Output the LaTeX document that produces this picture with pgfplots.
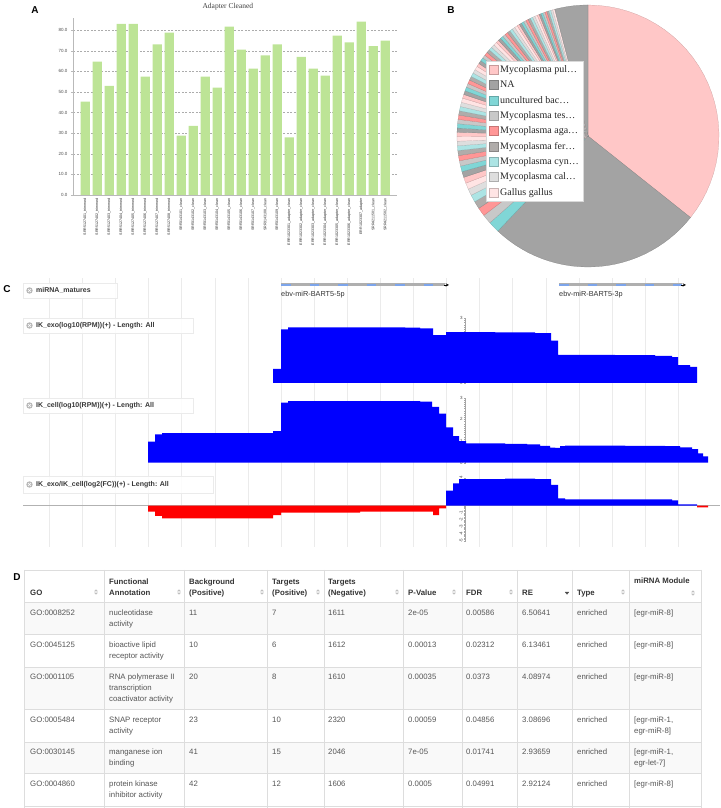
\documentclass[border=0pt]{standalone}
\usepackage{fontspec}
\setmainfont{Liberation Sans}
\newfontfamily\serif{Liberation Serif}
\usepackage{pgfplots}
\pgfplotsset{compat=1.18}
\pgfplotsset{/pgf/number format/assume math mode=true}

\definecolor{barg}{RGB}{189,228,150}
\definecolor{cPink}{RGB}{255,199,199}
\definecolor{cNA}{RGB}{163,163,163}
\definecolor{cTeal}{RGB}{128,214,214}
\definecolor{cLGray}{RGB}{200,200,200}
\definecolor{cSalmon}{RGB}{255,150,150}
\definecolor{cGrayB}{RGB}{176,172,170}
\definecolor{cLCyan}{RGB}{172,228,228}
\definecolor{cLLGray}{RGB}{222,222,222}
\definecolor{cLPink}{RGB}{255,228,228}
\definecolor{featgray}{RGB}{175,175,175}
\definecolor{featblue}{RGB}{125,165,235}
\definecolor{rowgray}{RGB}{249,249,249}
\definecolor{tabline}{RGB}{221,221,221}
\definecolor{tabtext}{RGB}{85,85,85}
\definecolor{headtext}{RGB}{51,51,51}

\newcommand\slice[3]{\addplot[fill=#3, draw=#3!78!black, line width=0.2pt, domain=#1:#2, samples=30] ({cos(x)},{sin(x)}) -- (axis cs:0,0) -- cycle;}
\newcommand\tabfont{\fontsize{7.8}{9}\selectfont}
\newcommand\tc[3]{\node[anchor=west, inner sep=0pt, text height=5.6pt, text depth=0.6pt, font=\tabfont, text=tabtext] at (#1pt,#2pt) {#3};}
\newcommand\thc[3]{\node[anchor=west, inner sep=0pt, text height=5.6pt, text depth=0.6pt, font=\tabfont\bfseries, text=headtext] at (#1pt,#2pt) {#3};}
\newcommand\sorti[2]{\begin{scope}[shift={(#1pt,#2pt)}]\fill[black!25] (-1.8pt,0.7pt)--(1.8pt,0.7pt)--(0pt,2.7pt)--cycle; \fill[black!25] (-1.8pt,-0.7pt)--(1.8pt,-0.7pt)--(0pt,-2.7pt)--cycle;\end{scope}}
\newcommand\sortd[2]{\begin{scope}[shift={(#1pt,#2pt)}]\fill[black!70] (-2.2pt,1pt)--(2.2pt,1pt)--(0pt,-1.6pt)--cycle;\end{scope}}
\newcommand\tbox[5]{%
  \fill[white, fill opacity=0.85, draw=black!8] (23pt,#2pt) rectangle (#1pt,#3pt);
  \begin{scope}[shift={(29.5pt,#4pt)}]
    \fill[black!28] (0pt,0pt) circle (3.2pt);
    \draw[white, line width=0.6pt] (-1.4pt,-1.4pt) -- (1.4pt,1.4pt) (-1.4pt,1.4pt) -- (1.4pt,-1.4pt);
  \end{scope}
  \node[anchor=west, inner sep=0pt, font=\bfseries\fontsize{7}{8}\selectfont, text=black!78] at (36pt,#4pt) {#5};}

\pgfplotsset{trk/.style={anchor=south west, scale only axis, width=720pt, xmin=-465, xmax=255,
  axis x line=none, axis y line=middle, y axis line style={-, draw=gray!70, line width=0.4pt},
  xtick=\empty, tick style={draw=gray!70, line width=0.3pt}, major tick length=2.5pt, minor tick length=1.5pt,
  tick align=center,
  yticklabel style={font=\fontsize{4.5}{5}\selectfont, text=black!70, inner sep=1pt}}}

\begin{document}
\begin{tikzpicture}
\path[use as bounding box] (0pt,0pt) rectangle (720pt,808pt);

% ---------- Panel A ----------
\begin{axis}[at={(73.3pt,613pt)}, anchor=south west, scale only axis, width=324pt, height=177.2pt,
  xmin=0, xmax=27, ymin=0, ymax=86,
  axis x line*=bottom, axis y line*=left, axis line style={-, draw=gray!55, line width=0.5pt},
  tick align=outside,
  ytick={0,10,...,80}, ymajorgrids, major grid style={gray!65, line width=0.4pt, dash pattern=on 2pt off 1.5pt},
  ytick style={draw=gray!55}, major tick length=2.5pt,
  yticklabel style={font=\fontsize{4.5}{5}\selectfont, text=black!70, /pgf/number format/fixed, /pgf/number format/fixed zerofill, /pgf/number format/precision=1},
  xtick={1,...,26}, xtick style={draw=none},
  xticklabels={SRR5127401\_trimmed,SRR5127402\_trimmed,SRR5127403\_trimmed,SRR5127404\_trimmed,SRR5127405\_trimmed,SRR5127406\_trimmed,SRR5127407\_trimmed,SRR5127408\_trimmed,SRR3143101\_clean,SRR3143102\_clean,SRR3143103\_clean,SRR3143104\_clean,SRR3143105\_clean,SRR3143106\_clean,SRR3143107\_clean,SRR3143108\_clean,SRR3143109\_clean,ERR1023301\_adapter\_clean,ERR1023302\_adapter\_clean,ERR1023303\_adapter\_clean,ERR1023304\_adapter\_clean,ERR1023305\_adapter\_clean,ERR1023306\_adapter\_clean,ERR1023307\_adapter,SRR4211501\_clean,SRR4211502\_clean},
  xticklabel style={rotate=90, anchor=east, font=\fontsize{3.6}{4}\selectfont, text=black!85, inner sep=1pt},
  title={Adapter Cleaned}, title style={font=\serif\fontsize{7.5}{9}\selectfont, text=black!75, at={(0.477,1)}, anchor=center, yshift=4.8pt},
]
\addplot[ybar, bar width=9.3pt, fill=barg, draw=none] coordinates {
(1,45.3)(2,64.7)(3,52.9)(4,83.0)(5,83.0)(6,57.4)(7,73.1)(8,78.8)(9,28.8)(10,33.6)(11,57.4)(12,52.1)(13,81.7)
(14,70.5)(15,61.3)(16,67.8)(17,73.1)(18,28.0)(19,67.0)(20,61.3)(21,57.9)(22,77.3)(23,74.1)(24,84.1)(25,72.3)(26,74.9)};
\end{axis}

% ---------- Panel B ----------
\begin{axis}[at={(457pt,541pt)}, anchor=south west, scale only axis, width=262pt, height=262pt,
  xmin=-1, xmax=1, ymin=-1, ymax=1, hide axis, clip=false,
  legend style={at={(0.111,0.786)}, anchor=north west, draw=black!15, fill=white,
    font=\serif\fontsize{10}{12}\selectfont, text=black!85, inner sep=2.5pt, row sep=2.9pt},
  legend cell align=left,
  legend image code/.code={\draw[#1, line width=0.4pt] (0pt,-4.5pt) rectangle (9pt,4.5pt);},
  legend entries={Mycoplasma pul…, NA, uncultured bac…, Mycoplasma tes…, Mycoplasma aga…, Mycoplasma fer…, Mycoplasma cyn…, Mycoplasma cal…, Gallus gallus},
]
\slice{-38.5}{90}{cPink}
\slice{-133.5}{-38.5}{cNA}
\slice{221.5}{226.5}{cTeal}
\slice{217.3}{221.5}{cLGray}
\slice{213.5}{217.3}{cSalmon}
\slice{210.1}{213.5}{cGrayB}
\slice{206.9}{210.1}{cLCyan}
\slice{203.9}{206.9}{cLLGray}
\slice{201.1}{203.9}{cLPink}
% cycle 2
\slice{198.4}{201.1}{cPink}
\slice{195.8}{198.4}{cNA}
\slice{193.3}{195.8}{cTeal}
\slice{190.9}{193.3}{cLGray}
\slice{188.6}{190.9}{cSalmon}
\slice{186.4}{188.6}{cGrayB}
\slice{184.3}{186.4}{cLCyan}
\slice{182.3}{184.3}{cLLGray}
\slice{180.3}{182.3}{cLPink}
% cycle 3
\slice{178.4}{180.3}{cPink}
\slice{176.5}{178.4}{cNA}
\slice{174.6}{176.5}{cTeal}
\slice{172.7}{174.6}{cLGray}
\slice{170.8}{172.7}{cSalmon}
\slice{168.9}{170.8}{cGrayB}
\slice{167.0}{168.9}{cLCyan}
\slice{165.1}{167.0}{cLLGray}
\slice{163.2}{165.1}{cLPink}
% cycle 4
\slice{161.5}{163.2}{cPink}
\slice{159.8}{161.5}{cNA}
\slice{158.1}{159.8}{cTeal}
\slice{156.4}{158.1}{cLGray}
\slice{154.7}{156.4}{cSalmon}
\slice{153.0}{154.7}{cGrayB}
\slice{151.3}{153.0}{cLCyan}
\slice{149.6}{151.3}{cLLGray}
\slice{147.9}{149.6}{cLPink}
% cycle 5
\slice{146.4}{147.9}{cPink}
\slice{144.9}{146.4}{cNA}
\slice{143.4}{144.9}{cTeal}
\slice{141.9}{143.4}{cLGray}
\slice{140.4}{141.9}{cSalmon}
\slice{138.9}{140.4}{cGrayB}
\slice{137.4}{138.9}{cLCyan}
\slice{135.9}{137.4}{cLLGray}
\slice{134.4}{135.9}{cLPink}
% cycle 6
\slice{133.1}{134.4}{cPink}
\slice{131.8}{133.1}{cNA}
\slice{130.5}{131.8}{cTeal}
\slice{129.2}{130.5}{cLGray}
\slice{127.9}{129.2}{cSalmon}
\slice{126.6}{127.9}{cGrayB}
\slice{125.3}{126.6}{cLCyan}
\slice{124.0}{125.3}{cLLGray}
\slice{122.7}{124.0}{cLPink}
% cycle 7
\slice{121.6}{122.7}{cPink}
\slice{120.5}{121.6}{cNA}
\slice{119.4}{120.5}{cTeal}
\slice{118.3}{119.4}{cLGray}
\slice{117.2}{118.3}{cSalmon}
\slice{116.1}{117.2}{cGrayB}
\slice{115.0}{116.1}{cLCyan}
\slice{113.9}{115.0}{cLLGray}
\slice{112.8}{113.9}{cLPink}
% cycle 8
\slice{111.9}{112.8}{cPink}
\slice{111.0}{111.9}{cNA}
\slice{110.1}{111.0}{cTeal}
\slice{109.2}{110.1}{cLGray}
\slice{108.3}{109.2}{cSalmon}
\slice{107.4}{108.3}{cGrayB}
\slice{106.5}{107.4}{cLCyan}
\slice{105.6}{106.5}{cLLGray}
\slice{104.7}{105.6}{cLPink}
\slice{90}{104.7}{cNA}
\end{axis}

% ---------- Panel C ----------
% background grid
\begin{axis}[at={(0pt,261pt)}, anchor=south west, scale only axis, width=720pt, height=269pt,
  xmin=-465, xmax=255, ymin=0, ymax=1, axis line style={draw=none}, tick style={draw=none},
  ytick=\empty, xtick={-415.8,-382.7,-316.4,-283.3,-250.2,-217.1,-150.7,-117.6,-84.5,-51.4,14.6,47.7,80.8,113.9,180.1,213.2},
  xticklabels={}, xmajorgrids, major grid style={gray!16, line width=0.5pt},
  extra x ticks={-349.5,-183.8,-18.5,147}, extra x tick labels={},
  extra x tick style={grid style={gray!45, line width=0.5pt}}]
\addplot[draw=none, forget plot] coordinates {(0,0.5)};
\end{axis}

% track 1: miRNA matures
\begin{axis}[at={(0pt,513pt)}, anchor=south west, scale only axis, width=720pt, height=20pt,
  xmin=-465, xmax=255, ymin=0, ymax=20, hide axis, clip=false]
\addplot[featgray, line width=3pt] coordinates {(-184,10) (-20,10)};
\addplot[featblue, line width=2.4pt, dash pattern=on 9.5pt off 19pt] coordinates {(-184,10) (-20,10)};
\addplot[black, line width=0.5pt, -stealth] coordinates {(-21,10) (-16,10)};
\addplot[featgray, line width=3pt] coordinates {(94,10) (217,10)};
\addplot[featblue, line width=2.4pt, dash pattern=on 9.5pt off 19pt] coordinates {(94,10) (217,10)};
\addplot[black, line width=0.5pt, -stealth] coordinates {(216,10) (221,10)};
\end{axis}
\node[anchor=west, inner sep=0pt, font=\fontsize{7.3}{8}\selectfont, text=black!80] at (281pt,513.5pt) {ebv-miR-BART5-5p};
\node[anchor=west, inner sep=0pt, font=\fontsize{7.3}{8}\selectfont, text=black!80] at (559pt,513.5pt) {ebv-miR-BART5-3p};

% track 2: IK_exo
\begin{axis}[trk, at={(0pt,425pt)}, height=64.8pt, ymin=0, ymax=3, ytick={0,1,2,3}, minor y tick num=9]
\addplot[const plot, fill=blue, draw=none] coordinates {
(-192,0.65) (-184,2.48) (-177,2.58) (-100,2.58) (-60,2.56) (-45,2.53) (-32,2.22) (-19,2.35) (30,2.34) (70,2.31)
(86,1.96) (93,1.30) (150,1.29) (190,1.26) (207,1.20) (213,0.83) (225,0.75) (232,0.75)} \closedcycle;
\end{axis}

% track 3: IK_cell
\begin{axis}[trk, at={(0pt,345.3pt)}, height=65pt, ymin=0, ymax=3, ytick={0,1,2,3}, minor y tick num=9]
\addplot[const plot, fill=blue, draw=none] coordinates {
(-317,0.97) (-310,1.31) (-303,1.36) (-192,1.46) (-184,2.77) (-177,2.84) (-45,2.82) (-33,2.58) (-26,2.27) (-19,1.63)
(-12,1.23) (-6,1.0) (1,0.89) (40,0.87) (62,0.84) (75,0.78) (85,0.70) (90,0.68) (95,0.76) (100,0.79) (160,0.78)
(200,0.76) (215,0.71) (227,0.63) (233,0.43) (238,0.29) (243,0.29)} \closedcycle;
\end{axis}

% track 4: log2 FC
\begin{axis}[trk, at={(0pt,267.3pt)}, height=63pt, ymin=-5, ymax=4, ytick={-5,...,4}, minor y tick num=4,
  yticklabel style={rotate=90, anchor=south}]
\addplot[gray!60, line width=0.5pt] coordinates {(-442,0) (255,0)};
\addplot[const plot, fill=red, draw=none] coordinates {
(-317,-0.85) (-310,-1.47) (-303,-1.8) (-192,-1.33) (-184,-1.0) (-105,-0.85) (-32,-1.33) (-26,-0.37) (-19,-0.37)} \closedcycle;
\addplot[const plot, fill=blue, draw=none] coordinates {
(-19,2.14) (-12,3.2) (-6,3.8) (40,3.85) (70,3.8) (86,2.96) (93,1.05) (100,0.92) (207,0.76) (213,0.2) (232,0.2)} \closedcycle;
\addplot[const plot, fill=red, draw=none] coordinates {(232,-0.23) (243,-0.23)} \closedcycle;
\end{axis}

\tbox{117}{510}{525}{517.5}{miRNA\_matures}
\tbox{193}{475}{490}{482.5}{IK\_exo(log10(RPM))(+) - Length: All}
\tbox{193}{395}{410}{402.5}{IK\_cell(log10(RPM))(+) - Length: All}
\tbox{213}{315}{332}{323.5}{IK\_exo/IK\_cell(log2(FC))(+) - Length: All}

% ---------- Panel D (table) ----------
\fill[rowgray] (24pt,174pt) rectangle (701pt,206pt);
\fill[rowgray] (24pt,99pt) rectangle (701pt,141pt);
\fill[rowgray] (24pt,35pt) rectangle (701pt,66pt);
\foreach \yy in {238,206,174,141,99,66,35,2} {\draw[tabline, line width=0.6pt] (24pt,\yy pt) -- (701pt,\yy pt);}
\foreach \xx in {24,104,184,267,324,403,462,517,572,629,701} {\draw[tabline, line width=0.6pt] (\xx pt,238pt) -- (\xx pt,0pt);}

\thc{30}{215}{GO}
\thc{109}{226}{Functional} \thc{109}{215}{Annotation}
\thc{189}{226}{Background} \thc{189}{215}{(Positive)}
\thc{272}{226}{Targets} \thc{272}{215}{(Positive)}
\thc{328}{226}{Targets} \thc{328}{215}{(Negative)}
\thc{408}{215}{P-Value}
\thc{466}{215}{FDR}
\thc{522}{215}{RE}
\thc{577}{215}{Type}
\thc{634}{227}{miRNA Module}
\sorti{96}{216} \sorti{179}{216} \sorti{262}{216} \sorti{318}{216} \sorti{397}{216}
\sorti{454}{216} \sorti{511}{216} \sortd{567}{215} \sorti{623}{216} \sorti{693}{215}

% row 1
\tc{30}{195}{GO:0008252} \tc{109}{195}{nucleotidase} \tc{109}{184}{activity}
\tc{189}{195}{11} \tc{272}{195}{7} \tc{328}{195}{1611} \tc{408}{195}{2e-05} \tc{466}{195}{0.00586}
\tc{522}{195}{6.50641} \tc{577}{195}{enriched} \tc{634}{195}{[egr-miR-8]}
% row 2
\tc{30}{163}{GO:0045125} \tc{109}{163}{bioactive lipid} \tc{109}{152}{receptor activity}
\tc{189}{163}{10} \tc{272}{163}{6} \tc{328}{163}{1612} \tc{408}{163}{0.00013} \tc{466}{163}{0.02312}
\tc{522}{163}{6.13461} \tc{577}{163}{enriched} \tc{634}{163}{[egr-miR-8]}
% row 3
\tc{30}{131}{GO:0001105} \tc{109}{131}{RNA polymerase II} \tc{109}{120}{transcription} \tc{109}{109}{coactivator activity}
\tc{189}{131}{20} \tc{272}{131}{8} \tc{328}{131}{1610} \tc{408}{131}{0.00035} \tc{466}{131}{0.0373}
\tc{522}{131}{4.08974} \tc{577}{131}{enriched} \tc{634}{131}{[egr-miR-8]}
% row 4
\tc{30}{88}{GO:0005484} \tc{109}{88}{SNAP receptor} \tc{109}{77}{activity}
\tc{189}{88}{23} \tc{272}{88}{10} \tc{328}{88}{2320} \tc{408}{88}{0.00059} \tc{466}{88}{0.04856}
\tc{522}{88}{3.08696} \tc{577}{88}{enriched} \tc{634}{88}{[egr-miR-1,} \tc{634}{77}{egr-miR-8]}
% row 5
\tc{30}{56}{GO:0030145} \tc{109}{56}{manganese ion} \tc{109}{45}{binding}
\tc{189}{56}{41} \tc{272}{56}{15} \tc{328}{56}{2046} \tc{408}{56}{7e-05} \tc{466}{56}{0.01741}
\tc{522}{56}{2.93659} \tc{577}{56}{enriched} \tc{634}{56}{[egr-miR-1,} \tc{634}{45}{egr-let-7]}
% row 6
\tc{30}{24}{GO:0004860} \tc{109}{24}{protein kinase} \tc{109}{13}{inhibitor activity}
\tc{189}{24}{42} \tc{272}{24}{12} \tc{328}{24}{1606} \tc{408}{24}{0.0005} \tc{466}{24}{0.04991}
\tc{522}{24}{2.92124} \tc{577}{24}{enriched} \tc{634}{24}{[egr-miR-8]}

% ---------- Panel labels ----------
\node[font=\bfseries\fontsize{10}{12}\selectfont] at (35pt,798pt) {A};
\node[font=\bfseries\fontsize{10}{12}\selectfont] at (451pt,798pt) {B};
\node[font=\bfseries\fontsize{10}{12}\selectfont] at (7pt,519pt) {C};
\node[font=\bfseries\fontsize{10}{12}\selectfont] at (17pt,231pt) {D};
\end{tikzpicture}
\end{document}
